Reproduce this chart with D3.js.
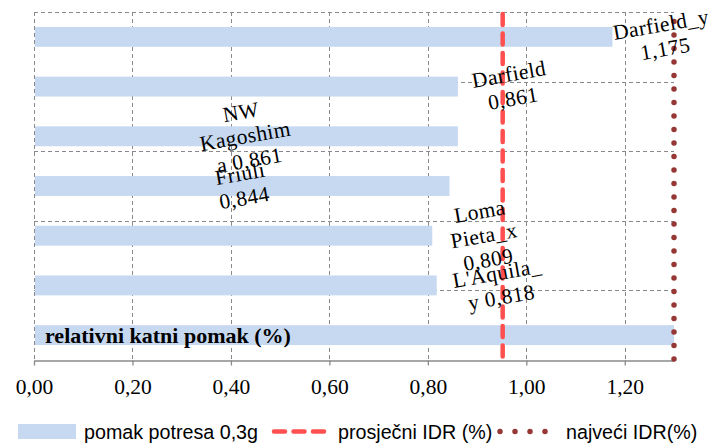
<!DOCTYPE html>
<html>
<head>
<meta charset="utf-8">
<script src="https://cdn.jsdelivr.net/npm/d3@7/dist/d3.min.js"></script>
<style>
  html, body { margin: 0; padding: 0; background: #fff; }
  svg { display: block; }
</style>
</head>
<body>
<svg id="chart" width="710" height="446"></svg>
<script>
// ---- data ----
const categories = ["Darfield_y", "Darfield", "NW Kagoshima", "Friuli", "Loma Pieta_x", "L'Aquila_y", "relativni katni pomak (%)"];
const values = [1.175, 0.861, 0.861, 0.844, 0.809, 0.818, 1.30];
const labelLines = [
  ["Darfield_y", "1,175"],
  ["Darfield", "0,861"],
  ["NW", "Kagoshim", "a 0,861"],
  ["Friuli", "0,844"],
  ["Loma", "Pieta_x", "0,809"],
  ["L'Aquila_", "y 0,818"]
];
const avgIDR = 0.952;
const maxIDR = 1.30;
const xTicks = [0, 0.2, 0.4, 0.6, 0.8, 1.0, 1.2];
const gridTicks = [0, 0.2, 0.4, 0.6, 0.8, 1.0];
const legendNames = ["pomak potresa 0,3g", "prosječni IDR (%)", "najveći IDR(%)"];

// ---- layout (annotation anchors, in data units of x) ----
const labelAnchorX = [1.278, 0.969, 0.429, 0.423, 0.914, 0.945];

const svg = d3.select("#chart");
const L = 34, R = 674, T = 12, B = 360;
const barColor = "#c6d9f0", avgColor = "#ff4f4f", maxColor = "#953735", gridColor = "#8a8a8a";
const serif = "'Liberation Serif', 'Times New Roman', serif";

const x = d3.scaleLinear().domain([0, 1.3]).range([L, R]);
const y = d3.scaleBand().domain(categories).range([T, B]).paddingInner(0.6).paddingOuter(0.3);
const yGrid = d3.scaleLinear().domain([0, 1]).range([B, T]);
const fmt = v => d3.format(".2f")(v).replace(".", ",");

// horizontal gridlines
svg.append("g").selectAll("line").data(gridTicks.filter(d => d > 0)).join("line")
  .attr("x1", L).attr("x2", R)
  .attr("y1", d => Math.round(yGrid(d)) + 0.5).attr("y2", d => Math.round(yGrid(d)) + 0.5)
  .attr("stroke", gridColor).attr("stroke-width", 1).attr("stroke-dasharray", "4,3");

// vertical gridlines
svg.append("g").selectAll("line").data(xTicks).join("line")
  .attr("x1", d => Math.round(x(d)) + 0.5).attr("x2", d => Math.round(x(d)) + 0.5)
  .attr("y1", T).attr("y2", B)
  .attr("stroke", gridColor).attr("stroke-width", 1).attr("stroke-dasharray", "4,3");

// bars
svg.append("g").selectAll("rect").data(values).join("rect")
  .attr("x", x(0) + 1)
  .attr("y", (d, i) => y(categories[i]))
  .attr("width", d => x(d) - x(0) - 1)
  .attr("height", y.bandwidth())
  .attr("fill", barColor);

// bottom axis
const axis = svg.append("g").attr("transform", `translate(0,${B + 0.5})`)
  .call(d3.axisBottom(x).tickValues(xTicks).tickSize(5).tickSizeOuter(0).tickFormat(fmt));
axis.select(".domain").attr("stroke", gridColor).attr("stroke-width", 1.3);
axis.selectAll(".tick line").attr("stroke", gridColor).attr("stroke-width", 1.3);
axis.selectAll(".tick text")
  .attr("font-family", serif)
  .attr("font-size", 21.5).attr("fill", "#000").attr("dy", 0).attr("y", 33);

// average IDR (dashed)
svg.append("line")
  .attr("x1", x(avgIDR)).attr("x2", x(avgIDR))
  .attr("y1", T + 2).attr("y2", B)
  .attr("stroke", avgColor).attr("stroke-width", 4.5)
  .attr("stroke-linecap", "round").attr("stroke-dasharray", "11,8.5");

// max IDR (dotted), pattern starting from bottom
svg.append("line")
  .attr("x1", x(maxIDR)).attr("x2", x(maxIDR))
  .attr("y1", B - 1).attr("y2", T)
  .attr("stroke", maxColor).attr("stroke-width", 5.5)
  .attr("stroke-linecap", "round").attr("stroke-dasharray", "0,13.5");

// bold category text inside last bar
svg.append("text")
  .attr("x", L + 11).attr("y", y(categories[6]) + y.bandwidth() / 2 + 8)
  .attr("font-family", serif)
  .attr("font-weight", "bold").attr("font-size", 22).attr("fill", "#000")
  .text(categories[6]);

// data labels (rotated)
const lineH = 24.5;
labelLines.forEach((lines, i) => {
  const cx = x(labelAnchorX[i]);
  const cy = y(categories[i]) + y.bandwidth() / 2;
  const g = svg.append("g").attr("transform", `translate(${cx},${cy}) rotate(-10)`);
  const n = lines.length;
  lines.forEach((s, k) => {
    g.append("text")
      .attr("x", 0).attr("y", (k - (n - 1) / 2) * lineH + 7)
      .attr("text-anchor", "middle")
      .attr("font-family", serif)
      .attr("font-size", 21.5).attr("fill", "#000")
      .attr("letter-spacing", 0.4)
      .text(s);
  });
});

// legend
const leg = svg.append("g");
const ly = 431.5;
const legFont = "'Liberation Sans', Arial, sans-serif";
const legItemX = [18, 272, 500];   // symbol start
const legSymW = [58, 54, 60];
const legTextX = [84, 338, 566];
function legText(s, tx) {
  leg.append("text").attr("x", tx).attr("y", ly + 7)
    .attr("font-family", legFont).attr("font-size", 19.7).attr("fill", "#000").text(s);
}
leg.append("rect").attr("x", legItemX[0]).attr("y", 424).attr("width", legSymW[0]).attr("height", 15).attr("fill", barColor);
legText(legendNames[0], legTextX[0]);
leg.append("line").attr("x1", legItemX[1] + 2).attr("x2", legItemX[1] + legSymW[1] - 2).attr("y1", ly).attr("y2", ly)
  .attr("stroke", avgColor).attr("stroke-width", 4.5).attr("stroke-linecap", "round")
  .attr("stroke-dasharray", "11,8.5");
legText(legendNames[1], legTextX[1]);
leg.append("line").attr("x1", legItemX[2]).attr("x2", legItemX[2] + legSymW[2]).attr("y1", ly).attr("y2", ly)
  .attr("stroke", maxColor).attr("stroke-width", 5.5).attr("stroke-linecap", "round")
  .attr("stroke-dasharray", "0,15");
legText(legendNames[2], legTextX[2]);
</script>
</body>
</html>
